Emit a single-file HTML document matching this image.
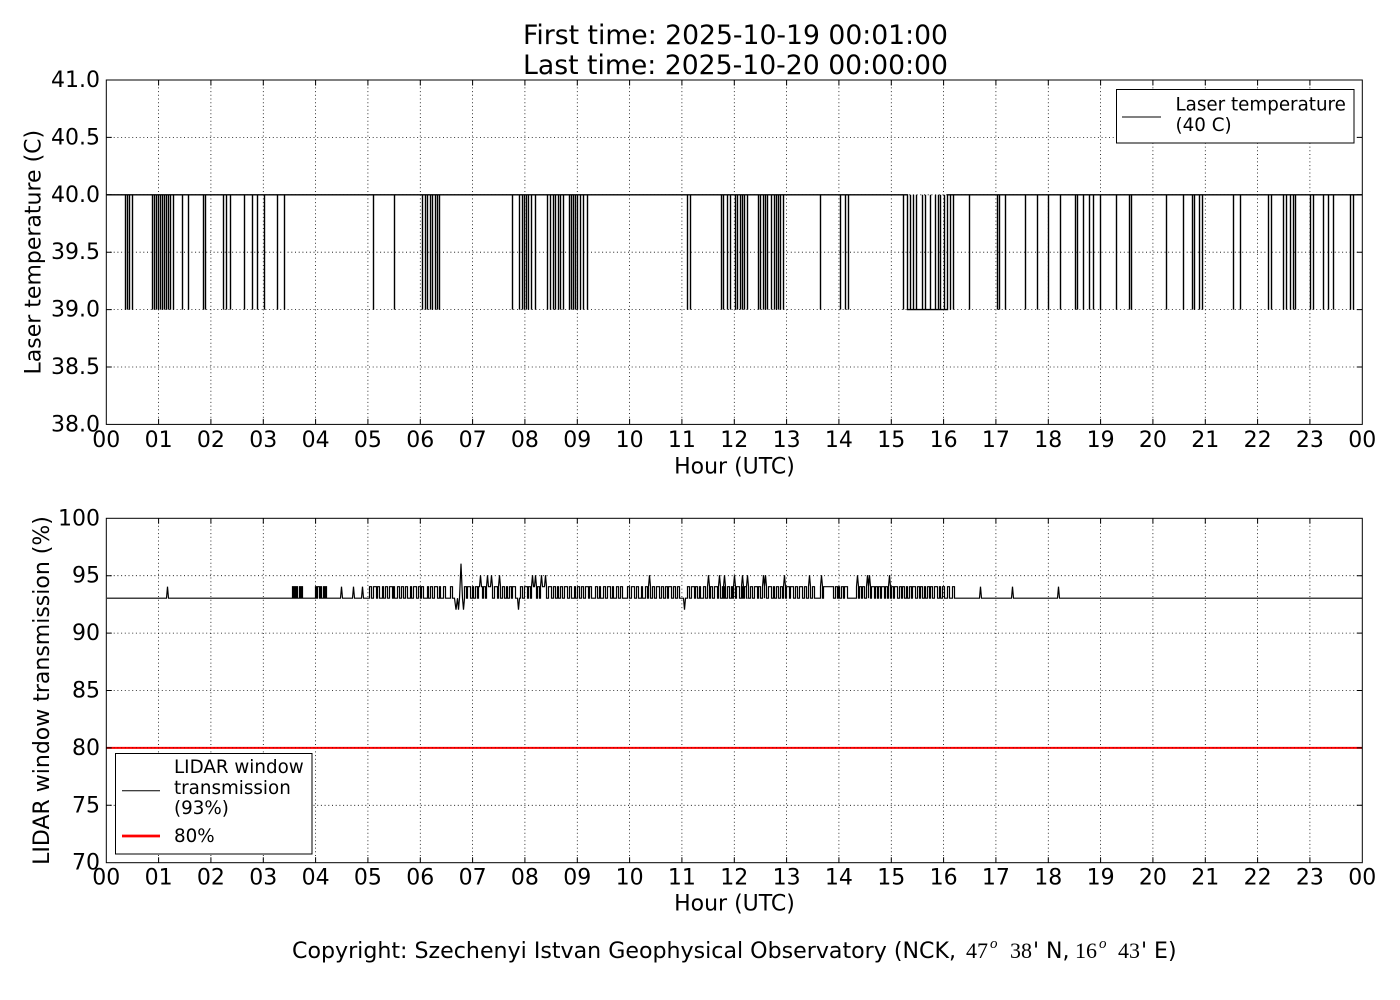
<!DOCTYPE html>
<html>
<head>
<meta charset="utf-8">
<style>
  html,body{margin:0;padding:0;background:#fff;}
  svg{display:block;}
  text{font-family:"DejaVu Sans","Liberation Sans",sans-serif;fill:#000;}
  .ser{font-family:"Liberation Serif","DejaVu Serif",serif;}
</style>
</head>
<body>
<svg width="1400" height="1000" viewBox="0 0 1400 1000" xmlns="http://www.w3.org/2000/svg">
  <rect x="0" y="0" width="1400" height="1000" fill="#fff"/>
  <defs>
    <clipPath id="c1"><rect x="106.3" y="80" width="1256" height="344.4"/></clipPath>
    <clipPath id="c2"><rect x="106.3" y="518.3" width="1256" height="344.4"/></clipPath>
  </defs>

  <!-- Title -->
  <text x="735.5" y="44" font-size="26.4" text-anchor="middle" textLength="425" lengthAdjust="spacingAndGlyphs">First time: 2025-10-19 00:01:00</text>
  <text x="735.5" y="74" font-size="26.4" text-anchor="middle" textLength="425" lengthAdjust="spacingAndGlyphs">Last time: 2025-10-20 00:00:00</text>

  <!-- ================= TOP AXES ================= -->
  <g stroke="#000" stroke-width="0.8" stroke-dasharray="1 2.7" fill="none">
    <path d="M158.6 80V424.4M210.9 80V424.4M263.3 80V424.4M315.6 80V424.4M367.9 80V424.4M420.3 80V424.4M472.6 80V424.4M524.9 80V424.4M577.3 80V424.4M629.6 80V424.4M681.9 80V424.4M734.3 80V424.4M786.6 80V424.4M838.9 80V424.4M891.3 80V424.4M943.6 80V424.4M995.9 80V424.4M1048.3 80V424.4M1100.6 80V424.4M1152.9 80V424.4M1205.3 80V424.4M1257.6 80V424.4M1309.9 80V424.4"/>
    <path d="M106.3 137.4H1362.3M106.3 194.8H1362.3M106.3 252.2H1362.3M106.3 309.6H1362.3M106.3 367H1362.3"/>
  </g>

  <g clip-path="url(#c1)">
    <path transform="translate(0.5,0)" fill="none" stroke="#000" stroke-width="1.4" stroke-linejoin="miter" d="M106.5 194.8
H125V309.6V194.8H127V309.6V194.8H129V309.6V194.8H132V309.6V194.8
H152V309.6V194.8H154V309.6V194.8H156V309.6V194.8H158V309.6V194.8H160V309.6V194.8H162V309.6V194.8H164V309.6V194.8H166V309.6V194.8H168V309.6V194.8H170V309.6V194.8H173V309.6V194.8
H182V309.6V194.8H188V309.6V194.8H203V309.6V194.8H205V309.6V194.8
H223V309.6V194.8H226V309.6V194.8H230V309.6V194.8H244V309.6V194.8
H252V309.6V194.8H257V309.6V194.8H264V309.6V194.8H277V309.6V194.8H284V309.6V194.8
H373V309.6V194.8H394V309.6V194.8
H422V309.6V194.8H425V309.6V194.8H427V309.6V194.8H430V309.6V194.8H432V309.6V194.8H435V309.6V194.8H437V309.6V194.8H439V309.6V194.8
H512V309.6V194.8H519V309.6V194.8H522V309.6V194.8H524V309.6V194.8H526V309.6V194.8H528V309.6V194.8H531V309.6V194.8H535V309.6V194.8
H547V309.6V194.8H550V309.6V194.8H553V309.6V194.8H555V309.6V194.8H558V309.6V194.8H560V309.6V194.8H563V309.6V194.8
H569V309.6V194.8H571V309.6V194.8H573V309.6V194.8H575V309.6V194.8H577V309.6V194.8H580V309.6V194.8H583V309.6V194.8H587V309.6V194.8
H687V309.6V194.8H690V309.6V194.8
H721V309.6V194.8H723V309.6V194.8H727V309.6V194.8H730V309.6V194.8H735V309.6V194.8H737V309.6V194.8H740V309.6V194.8H742V309.6V194.8H744V309.6V194.8H747V309.6V194.8
H758V309.6V194.8H760V309.6V194.8H763V309.6V194.8H765V309.6V194.8H767V309.6V194.8H771V309.6V194.8H774V309.6V194.8H776V309.6V194.8H778V309.6V194.8H780V309.6V194.8H783V309.6V194.8
H820V309.6V194.8H840V309.6V194.8H845V309.6V194.8H848V309.6V194.8
H903V309.6V194.8H907V309.6
H910V194.8V309.6H913V194.8V309.6H916V194.8V309.6H922V194.8V309.6H925V194.8V309.6H930V194.8V309.6H935V194.8V309.6H938V194.8V309.6H940V194.8V309.6H944V194.8V309.6H947V194.8
H950V309.6V194.8H953V309.6V194.8H969V309.6V194.8
H997V309.6V194.8H999V309.6V194.8H1005V309.6V194.8H1025V309.6V194.8H1037V309.6V194.8H1048V309.6V194.8H1060V309.6V194.8
H1075V309.6V194.8H1077V309.6V194.8H1083V309.6V194.8H1089V309.6V194.8H1093V309.6V194.8H1100V309.6V194.8
H1116V309.6V194.8H1129V309.6V194.8H1131V309.6V194.8H1166V309.6V194.8
H1183V309.6V194.8H1192V309.6V194.8H1194V309.6V194.8H1199V309.6V194.8H1202V309.6V194.8
H1233V309.6V194.8H1240V309.6V194.8H1268V309.6V194.8H1271V309.6V194.8
H1283V309.6V194.8H1286V309.6V194.8H1290V309.6V194.8H1293V309.6V194.8H1295V309.6V194.8
H1310V309.6V194.8H1313V309.6V194.8H1323V309.6V194.8H1328V309.6V194.8H1333V309.6V194.8
H1350V309.6V194.8H1353V309.6V194.8H1362.3"/>
  </g>

  <!-- frame & ticks top -->
  <rect x="106.3" y="80" width="1256" height="344.4" fill="none" stroke="#000" stroke-width="1"/>
  <g stroke="#000" stroke-width="1" fill="none">
    <path d="M158.6 424.4v-5.5M210.9 424.4v-5.5M263.3 424.4v-5.5M315.6 424.4v-5.5M367.9 424.4v-5.5M420.3 424.4v-5.5M472.6 424.4v-5.5M524.9 424.4v-5.5M577.3 424.4v-5.5M629.6 424.4v-5.5M681.9 424.4v-5.5M734.3 424.4v-5.5M786.6 424.4v-5.5M838.9 424.4v-5.5M891.3 424.4v-5.5M943.6 424.4v-5.5M995.9 424.4v-5.5M1048.3 424.4v-5.5M1100.6 424.4v-5.5M1152.9 424.4v-5.5M1205.3 424.4v-5.5M1257.6 424.4v-5.5M1309.9 424.4v-5.5"/>
    <path d="M158.6 80v5.5M210.9 80v5.5M263.3 80v5.5M315.6 80v5.5M367.9 80v5.5M420.3 80v5.5M472.6 80v5.5M524.9 80v5.5M577.3 80v5.5M629.6 80v5.5M681.9 80v5.5M734.3 80v5.5M786.6 80v5.5M838.9 80v5.5M891.3 80v5.5M943.6 80v5.5M995.9 80v5.5M1048.3 80v5.5M1100.6 80v5.5M1152.9 80v5.5M1205.3 80v5.5M1257.6 80v5.5M1309.9 80v5.5"/>
    <path d="M106.3 137.4h5.5M106.3 194.8h5.5M106.3 252.2h5.5M106.3 309.6h5.5M106.3 367h5.5M1362.3 137.4h-5.5M1362.3 194.8h-5.5M1362.3 252.2h-5.5M1362.3 309.6h-5.5M1362.3 367h-5.5"/>
  </g>

  <!-- top y tick labels -->
  <g font-size="22" text-anchor="end">
    <text x="100" y="87">41.0</text>
    <text x="100" y="144.4">40.5</text>
    <text x="100" y="201.8">40.0</text>
    <text x="100" y="259.2">39.5</text>
    <text x="100" y="316.6">39.0</text>
    <text x="100" y="374">38.5</text>
    <text x="100" y="431.4">38.0</text>
  </g>
  <!-- top x tick labels -->
  <g font-size="22" text-anchor="middle">
    <text x="106.3" y="447">00</text><text x="158.6" y="447">01</text><text x="210.9" y="447">02</text><text x="263.3" y="447">03</text><text x="315.6" y="447">04</text><text x="367.9" y="447">05</text><text x="420.3" y="447">06</text><text x="472.6" y="447">07</text><text x="524.9" y="447">08</text><text x="577.3" y="447">09</text><text x="629.6" y="447">10</text><text x="681.9" y="447">11</text><text x="734.3" y="447">12</text><text x="786.6" y="447">13</text><text x="838.9" y="447">14</text><text x="891.3" y="447">15</text><text x="943.6" y="447">16</text><text x="995.9" y="447">17</text><text x="1048.3" y="447">18</text><text x="1100.6" y="447">19</text><text x="1152.9" y="447">20</text><text x="1205.3" y="447">21</text><text x="1257.6" y="447">22</text><text x="1309.9" y="447">23</text><text x="1362.3" y="447">00</text>
  </g>
  <text x="734.5" y="473.3" font-size="22" text-anchor="middle">Hour (UTC)</text>
  <text transform="translate(40.5,252.2) rotate(-90)" font-size="22" text-anchor="middle">Laser temperature (C)</text>

  <!-- top legend -->
  <rect x="1116.5" y="89.5" width="237.5" height="53.5" fill="#fff" stroke="#000" stroke-width="1"/>
  <line x1="1122" y1="117" x2="1161" y2="117" stroke="#000" stroke-width="1"/>
  <text x="1175.5" y="110.5" font-size="18.3">Laser temperature</text>
  <text x="1175.5" y="131" font-size="18.3">(40 C)</text>

  <!-- ================= BOTTOM AXES ================= -->
  <g stroke="#000" stroke-width="0.8" stroke-dasharray="1 2.7" fill="none">
    <path d="M158.6 518.3V862.7M210.9 518.3V862.7M263.3 518.3V862.7M315.6 518.3V862.7M367.9 518.3V862.7M420.3 518.3V862.7M472.6 518.3V862.7M524.9 518.3V862.7M577.3 518.3V862.7M629.6 518.3V862.7M681.9 518.3V862.7M734.3 518.3V862.7M786.6 518.3V862.7M838.9 518.3V862.7M891.3 518.3V862.7M943.6 518.3V862.7M995.9 518.3V862.7M1048.3 518.3V862.7M1100.6 518.3V862.7M1152.9 518.3V862.7M1205.3 518.3V862.7M1257.6 518.3V862.7M1309.9 518.3V862.7"/>
    <path d="M106.3 575.7H1362.3M106.3 633.1H1362.3M106.3 690.5H1362.3M106.3 805.3H1362.3"/>
  </g>

  <g clip-path="url(#c2)">
    <path transform="translate(0.5,0)" fill="none" stroke="#000" stroke-width="1.2" stroke-linejoin="miter" d="M106.5 598.2H166l1-11.5l1 11.5H292
v-11.5h1v11.5h1v-11.5h1v11.5h1v-11.5h1v11.5h2v-11.5h1v11.5h1v-11.5h1v11.5
H315v-11.5h1v11.5h1v-11.5h2v11.5h1v-11.5h1v11.5h2v-11.5h1v11.5h1v-11.5h1v11.5
H340l1-11.5l1 11.5H352l1-11.5l1 11.5H361l1-11.5l1 11.5H367
h2v-11.5h2v11.5h2v-11.5h3v11.5h1v-11.5h2v11.5h3v-11.5h1v11.5h2v-11.5h2v11.5h2v-11.5h3v11.5h1v-11.5h1v11.5h3v-11.5h2v11.5h2v-11.5h2v11.5h2v-11.5h2v11.5h3v-11.5h1v11.5h2v-11.5h3v11.5h2v-11.5h2v11.5h1v-11.5h2v11.5h4v-11.5h1v11.5h2v-11.5h2v11.5h2v-11.5h3v11.5h2v-11.5h1v11.5h3v-11.5h2v11.5h2
H447h3v-11.5h2v11.5H454
l1.5 11.5l1.5-11.5l1 11.5l1-11.5l1.5-34.5l1.5 34.5l1 11.5l1-11.5
H464v-11.5h2v11.5h1v-11.5h3v11.5h2v-11.5h1v11.5h2v-11.5h2v11.5h1
H478v-11.5h1l1-11.5l1 11.5h1v11.5h1v-11.5h2v11.5h1v-11.5l1-11.5l1 11.5h2l1-11.5l1 11.5v11.5
H492h2v-11.5h3v11.5h1v-11.5l1-11.5l1 11.5v11.5h2v-11.5h2v11.5h2v-11.5h1v11.5h2v-11.5h2v11.5h1v-11.5h3v11.5
H517l1 11.5l1-11.5h1v-11.5h2v11.5h2v-11.5h3v11.5h1v-11.5h2v11.5h1
H531v-11.5l1-11.5l1 11.5h1l1-11.5l1 11.5v11.5h1v-11.5h2v11.5h1v-11.5l1-11.5l1 11.5h2l1-11.5l1 11.5v11.5h2v-11.5h3v11.5h2v-11.5h2v11.5h2v-11.5h1v11.5h2
H560v-11.5h2v11.5h2v-11.5h3v11.5h2v-11.5h2v11.5h3v-11.5h1v11.5h2v-11.5h2v11.5h2v-11.5h2v11.5h2v-11.5h3v11.5h1v-11.5h2v11.5h4v-11.5h2v11.5h2v-11.5h1v11.5h3v-11.5h2v11.5h2v-11.5h3v11.5h2v-11.5h1v11.5h3v-11.5h2v11.5h2v-11.5h2v11.5h5v-11.5h2v11.5h2v-11.5h3v11.5h2v-11.5h2v11.5h3v-11.5h1v11.5h3
H645v-11.5h2v11.5h1v-11.5l1-11.5l1 11.5v11.5h2v-11.5h2v11.5h2
H656v-11.5h3v11.5h2v-11.5h2v11.5h2v-11.5h2v11.5h1v-11.5h3v11.5h2v-11.5h2v11.5h2v-11.5h2v11.5h2
H683l1 11.5l1-11.5
H685h2v-11.5h2v11.5h2v-11.5h3v11.5h1v-11.5h2v11.5h2v-11.5h1v11.5h3v-11.5h2v11.5h2
H707v-11.5l1-11.5l1 11.5v11.5h1v-11.5h2v11.5h2v-11.5h3v11.5h1
H718v-11.5l1-11.5l1 11.5v11.5h2v-11.5h2v11.5h1
H723v-11.5l1-11.5l1 11.5v11.5h2v-11.5h2v11.5h2v-11.5h1v11.5h1
H733v-11.5l1-11.5l1 11.5v11.5h1v-11.5h3v11.5h2v-11.5h1v11.5h1
H741v-11.5l1-11.5l1 11.5v11.5h1v-11.5h2v11.5h1
H746v-11.5l1-11.5l1 11.5v11.5h2v-11.5h2v11.5h2v-11.5h3v11.5h1v-11.5h2v11.5h1
H762v-11.5l1-11.5l1 11.5v11.5v-11.5l1-11.5l1 11.5v11.5h2v-11.5h3v11.5h2v-11.5h1v11.5h2v-11.5h2v11.5h2v-11.5h2v11.5h1
H783v-11.5l1-11.5l1 11.5v11.5h1v-11.5h3v11.5h1v-11.5h3v11.5h2v-11.5h2v11.5h2v-11.5h3v11.5h2v-11.5h2v11.5h2
H808v-11.5l1-11.5l1 11.5v11.5h2v-11.5h2v11.5h1
H820v-11.5l1-11.5l1 11.5v11.5h1v-11.5h10v11.5h2v-11.5h2v11.5h1v-11.5h1v11.5h2v-11.5h2v11.5h1v-11.5h3v11.5h1
H856v-11.5l1-11.5l1 11.5v11.5h1v-11.5h2v11.5h1v-11.5h2v11.5h1
H866v-11.5l1-11.5l1 11.5v11.5v-11.5l1-11.5l1 11.5v11.5h1v-11.5h3v11.5h1v-11.5h2v11.5h1v-11.5h2v11.5h1v-11.5h3v11.5h1v-11.5h2v11.5h1
H888v-11.5l1-11.5l1 11.5v11.5h1v-11.5h2v11.5h1v-11.5h3v11.5h2v-11.5h2v11.5h1v-11.5h2v11.5h2v-11.5h1v11.5h2v-11.5h2v11.5h1v-11.5h3v11.5h2v-11.5h2v11.5h1v-11.5h2v11.5h2v-11.5h1v11.5h2v-11.5h2v11.5h1v-11.5h2v11.5h2v-11.5h3v11.5h2v-11.5h1v11.5h2v-11.5h2v11.5h3v-11.5h2v11.5h3v-11.5h2v11.5
H979l1-11.5l1 11.5H1011l1-11.5l1 11.5H1057l1-11.5l1 11.5H1362.3"/>
    <line x1="106.3" y1="747.9" x2="1362.3" y2="747.9" stroke="#ff0000" stroke-width="2"/>
    <line x1="106.3" y1="747.9" x2="1362.3" y2="747.9" stroke="#000" stroke-width="0.8" stroke-dasharray="1 2.7" opacity="0.6"/>
  </g>

  <!-- frame & ticks bottom -->
  <rect x="106.3" y="518.3" width="1256" height="344.4" fill="none" stroke="#000" stroke-width="1"/>
  <g stroke="#000" stroke-width="1" fill="none">
    <path d="M158.6 862.7v-5.5M210.9 862.7v-5.5M263.3 862.7v-5.5M315.6 862.7v-5.5M367.9 862.7v-5.5M420.3 862.7v-5.5M472.6 862.7v-5.5M524.9 862.7v-5.5M577.3 862.7v-5.5M629.6 862.7v-5.5M681.9 862.7v-5.5M734.3 862.7v-5.5M786.6 862.7v-5.5M838.9 862.7v-5.5M891.3 862.7v-5.5M943.6 862.7v-5.5M995.9 862.7v-5.5M1048.3 862.7v-5.5M1100.6 862.7v-5.5M1152.9 862.7v-5.5M1205.3 862.7v-5.5M1257.6 862.7v-5.5M1309.9 862.7v-5.5"/>
    <path d="M158.6 518.3v5.5M210.9 518.3v5.5M263.3 518.3v5.5M315.6 518.3v5.5M367.9 518.3v5.5M420.3 518.3v5.5M472.6 518.3v5.5M524.9 518.3v5.5M577.3 518.3v5.5M629.6 518.3v5.5M681.9 518.3v5.5M734.3 518.3v5.5M786.6 518.3v5.5M838.9 518.3v5.5M891.3 518.3v5.5M943.6 518.3v5.5M995.9 518.3v5.5M1048.3 518.3v5.5M1100.6 518.3v5.5M1152.9 518.3v5.5M1205.3 518.3v5.5M1257.6 518.3v5.5M1309.9 518.3v5.5"/>
    <path d="M106.3 575.7h5.5M106.3 633.1h5.5M106.3 690.5h5.5M106.3 747.9h5.5M106.3 805.3h5.5M1362.3 575.7h-5.5M1362.3 633.1h-5.5M1362.3 690.5h-5.5M1362.3 747.9h-5.5M1362.3 805.3h-5.5"/>
  </g>

  <!-- bottom legend -->
  <rect x="115.5" y="753.5" width="196.5" height="100.5" fill="#fff" stroke="#000" stroke-width="1"/>
  <line x1="122" y1="790.7" x2="160" y2="790.7" stroke="#000" stroke-width="1"/>
  <line x1="122" y1="836" x2="160" y2="836" stroke="#ff0000" stroke-width="2.7"/>
  <g font-size="18.3">
    <text x="174" y="773">LIDAR window</text>
    <text x="174" y="794">transmission</text>
    <text x="174" y="814">(93%)</text>
    <text x="174" y="842">80%</text>
  </g>

  <!-- bottom y tick labels -->
  <g font-size="22" text-anchor="end">
    <text x="100" y="525.3">100</text>
    <text x="100" y="582.7">95</text>
    <text x="100" y="640.1">90</text>
    <text x="100" y="697.5">85</text>
    <text x="100" y="754.9">80</text>
    <text x="100" y="812.3">75</text>
    <text x="100" y="869.7">70</text>
  </g>
  <!-- bottom x tick labels -->
  <g font-size="22" text-anchor="middle">
    <text x="106.3" y="884.5">00</text><text x="158.6" y="884.5">01</text><text x="210.9" y="884.5">02</text><text x="263.3" y="884.5">03</text><text x="315.6" y="884.5">04</text><text x="367.9" y="884.5">05</text><text x="420.3" y="884.5">06</text><text x="472.6" y="884.5">07</text><text x="524.9" y="884.5">08</text><text x="577.3" y="884.5">09</text><text x="629.6" y="884.5">10</text><text x="681.9" y="884.5">11</text><text x="734.3" y="884.5">12</text><text x="786.6" y="884.5">13</text><text x="838.9" y="884.5">14</text><text x="891.3" y="884.5">15</text><text x="943.6" y="884.5">16</text><text x="995.9" y="884.5">17</text><text x="1048.3" y="884.5">18</text><text x="1100.6" y="884.5">19</text><text x="1152.9" y="884.5">20</text><text x="1205.3" y="884.5">21</text><text x="1257.6" y="884.5">22</text><text x="1309.9" y="884.5">23</text><text x="1362.3" y="884.5">00</text>
  </g>
  <text x="734.5" y="910.5" font-size="22" text-anchor="middle">Hour (UTC)</text>
  <text transform="translate(49,690.5) rotate(-90)" font-size="22" text-anchor="middle">LIDAR window transmission (%)</text>

  <!-- copyright -->
  <text x="292" y="958" font-size="22" textLength="664" lengthAdjust="spacingAndGlyphs">Copyright: Szechenyi Istvan Geophysical Observatory (NCK,</text>
  <text x="966" y="958" font-size="22" class="ser">47</text>
  <text x="990" y="948" font-size="15" font-style="italic" class="ser">o</text>
  <text x="1010" y="958" font-size="22" class="ser">38</text>
  <text x="1033" y="958" font-size="22">' N,</text>
  <text x="1075" y="958" font-size="22" class="ser">16</text>
  <text x="1099" y="948" font-size="15" font-style="italic" class="ser">o</text>
  <text x="1118" y="958" font-size="22" class="ser">43</text>
  <text x="1141" y="958" font-size="22">' E)</text>
</svg>
</body>
</html>
